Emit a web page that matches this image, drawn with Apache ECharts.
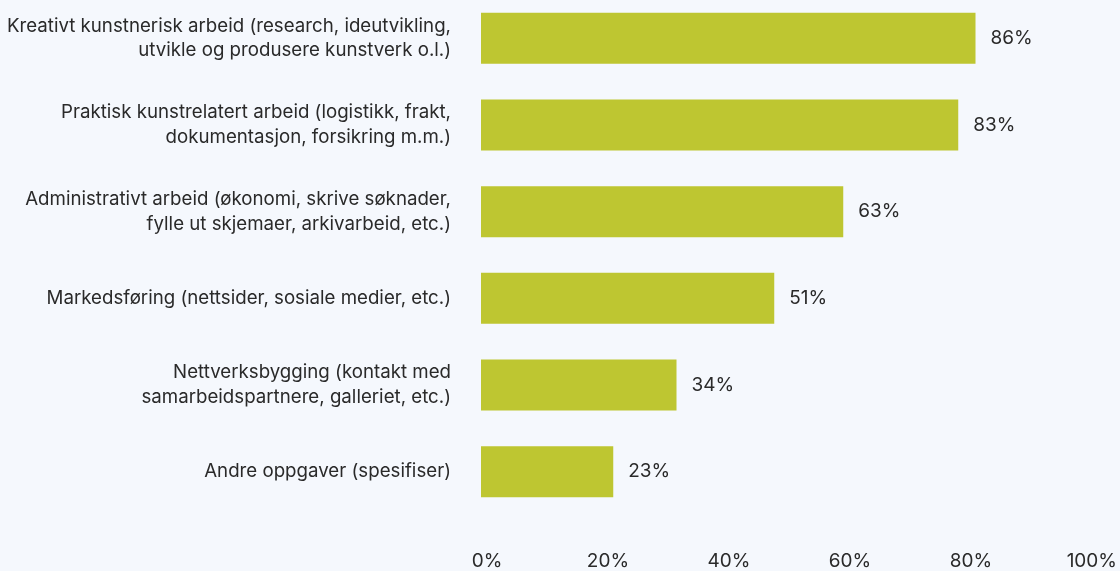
<!DOCTYPE html>
<html>
<head>
<meta charset="utf-8">
<script src="https://cdn.jsdelivr.net/npm/echarts@6/dist/echarts.min.js"></script>
<style>
  html, body { margin: 0; padding: 0; background: #f5f8fd; overflow: hidden; }
  /* canvas starts 5px above the page so the first band can sit at the very top */
  #chart { position: relative; top: -5px; width: 1120px; height: 576px; }
</style>
</head>
<body>
<div id="chart"></div>
<script>
// Share of respondents spending time on each type of work
const categories = [
  'Kreativt kunstnerisk arbeid (research, ideutvikling,\nutvikle og produsere kunstverk o.l.)',
  'Praktisk kunstrelatert arbeid (logistikk, frakt,\ndokumentasjon, forsikring m.m.)',
  'Administrativt arbeid (økonomi, skrive søknader,\nfylle ut skjemaer, arkivarbeid, etc.)',
  'Markedsføring (nettsider, sosiale medier, etc.)',
  'Nettverksbygging (kontakt med\nsamarbeidspartnere, galleriet, etc.)',
  'Andre oppgaver (spesifiser)'
];
const percentages = [86, 83, 63, 51, 34, 23];
const tickLabels = ['0%', '20%', '40%', '60%', '80%', '100%'];

const FONT = 'Inter, "Noto Sans", sans-serif';
const TEXT = '#2a2a2a';

const chart = echarts.init(document.getElementById('chart'), null, { renderer: 'canvas' });

chart.setOption({
  backgroundColor: '#f5f8fd',
  animation: false,
  grid: [
    { left: 481, width: 575, top: 0, height: 520, containLabel: false },
    { left: 487, width: 606, top: 535, height: 20, containLabel: false }
  ],
  xAxis: [
    { gridIndex: 0, type: 'value', min: 0, max: 100, show: false },
    {
      gridIndex: 1, type: 'category', data: tickLabels, boundaryGap: false,
      axisLine: { show: false }, axisTick: { show: false }, splitLine: { show: false },
      axisLabel: { color: TEXT, fontFamily: FONT, fontSize: 19, margin: 3 }
    }
  ],
  yAxis: [
    {
      gridIndex: 0, type: 'category', data: categories, inverse: true,
      axisLine: { show: false }, axisTick: { show: false }, splitLine: { show: false },
      axisLabel: {
        color: TEXT, fontFamily: FONT, fontSize: 18.7, lineHeight: 24.5,
        margin: 30, align: 'right', padding: [0, 0, 5, 0]
      }
    },
    { gridIndex: 1, type: 'value', show: false }
  ],
  series: [{
    type: 'bar',
    xAxisIndex: 0,
    yAxisIndex: 0,
    data: percentages,
    barWidth: 51,
    itemStyle: { color: '#bec631' },
    label: {
      show: true,
      position: 'right',
      distance: 15,
      formatter: '{c}%',
      color: TEXT,
      fontFamily: FONT,
      fontSize: 19
    }
  }]
});
</script>
</body>
</html>
